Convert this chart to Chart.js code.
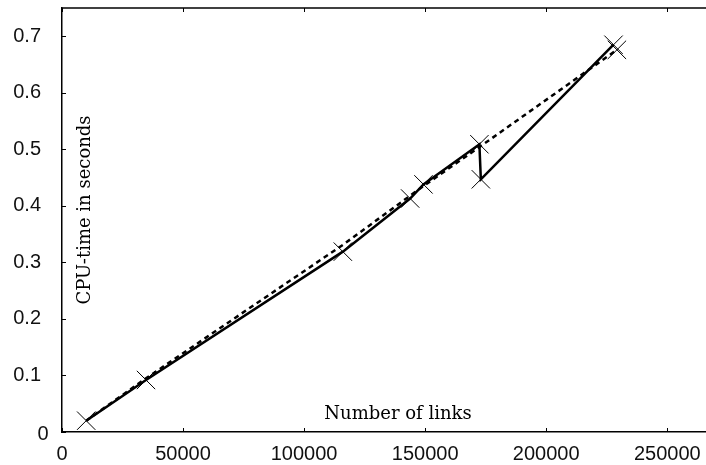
<!DOCTYPE html>
<html><head><meta charset="utf-8">
<script src="https://cdn.jsdelivr.net/npm/chart.js@4.4.0/dist/chart.umd.min.js"></script>
<style>html,body{margin:0;padding:0;background:#fff;} #wrap{width:706px;height:465px;}</style>
</head><body><div id="wrap"><canvas id="c" width="706" height="465"></canvas></div>
<script>
// measured (solid line, X markers)
const measuredLinks = [10000, 34700, 116000, 143800, 149300, 172400, 173000, 227800];
const measuredTime  = [0.020, 0.092, 0.319, 0.413, 0.438, 0.509, 0.447, 0.685];
// model / estimate (dashed line)
const modelLinks = [10000, 34700, 116000, 143800, 149300, 172400, 229200];
const modelTime  = [0.020, 0.095, 0.331, 0.418, 0.435, 0.504, 0.676];
// axes
const xTicks = [0, 50000, 100000, 150000, 200000, 250000];
const yTicks = [0, 0.1, 0.2, 0.3, 0.4, 0.5, 0.6, 0.7];
const xTitle = 'Number of links';
const yTitle = 'CPU-time in seconds';

const toPts = (xs, ys) => xs.map((v, i) => ({x: v, y: ys[i]}));
const tickFont = {family: '"Liberation Sans", Arial, sans-serif', size: 20};
const noPad = s => { s.paddingTop = 0; s.paddingBottom = 0; s.paddingLeft = 0; s.paddingRight = 0; };

const frame = {
  id: 'frame',
  afterDraw(chart) {
    const {ctx, chartArea: a, scales: {x, y}} = chart;
    ctx.save();
    ctx.strokeStyle = '#000';
    ctx.lineWidth = 1.5;
    ctx.beginPath();
    ctx.moveTo(a.left, a.top); ctx.lineTo(a.right, a.top);
    ctx.stroke();
    ctx.lineWidth = 1;
    ctx.beginPath();
    x.ticks.forEach(t => {
      const px = Math.round(x.getPixelForValue(t.value)) + 0.5;
      ctx.moveTo(px, a.bottom); ctx.lineTo(px, a.bottom - 4);
      ctx.moveTo(px, a.top); ctx.lineTo(px, a.top + 4);
    });
    y.ticks.forEach(t => {
      const py = Math.round(y.getPixelForValue(t.value)) + 0.5;
      ctx.moveTo(a.left, py); ctx.lineTo(a.left + 4, py);
    });
    ctx.stroke();
    // y "0" label (offset like the original)
    ctx.fillStyle = '#111';
    ctx.font = '20px "Liberation Sans", Arial, sans-serif';
    ctx.textAlign = 'center'; ctx.textBaseline = 'middle';
    ctx.fillText('0', 43, y.getPixelForValue(0) + 2);
    // axis titles inside the plot
    ctx.fillStyle = '#000';
    ctx.font = '18px "DejaVu Serif", serif';
    ctx.fillText(xTitle, 398, 414);
    ctx.translate(85, 210); ctx.rotate(-Math.PI / 2);
    ctx.fillText(yTitle, 0, 0);
    ctx.restore();
  }
};

new Chart(document.getElementById('c'), {
  type: 'line',
  data: {
    datasets: [
      {
        data: toPts(modelLinks, modelTime),
        borderColor: '#000', borderWidth: 2.5, borderDash: [5, 4],
        pointStyle: 'crossRot',
        pointRadius: modelLinks.map((v, i) => i === modelLinks.length - 1 ? 13 : 0),
        pointBorderWidth: 1, pointBorderColor: '#000', pointBackgroundColor: '#000',
        tension: 0, fill: false
      },
      {
        data: toPts(measuredLinks, measuredTime),
        borderColor: '#000', borderWidth: 2.5,
        pointStyle: 'crossRot', pointRadius: 13,
        pointBorderWidth: 1, pointBorderColor: '#000', pointBackgroundColor: '#000',
        tension: 0, fill: false
      }
    ]
  },
  options: {
    responsive: false,
    animation: false,
    layout: {autoPadding: false, padding: {top: 8, left: 0, right: 0, bottom: 0}},
    plugins: {legend: {display: false}, tooltip: {enabled: false}},
    scales: {
      x: {
        type: 'linear', min: 0, max: 266000,
        afterBuildTicks: s => { s.ticks = xTicks.map(v => ({value: v})); },
        afterFit: s => { s.height = 33; noPad(s); },
        grid: {display: false, drawTicks: false},
        border: {display: true, color: '#000', width: 1.5},
        ticks: {includeBounds: false, font: tickFont, color: '#111', padding: 10, maxRotation: 0,
                callback: v => String(v)}
      },
      y: {
        type: 'linear', min: 0, max: 0.75,
        afterBuildTicks: s => { s.ticks = yTicks.map(v => ({value: v})); },
        afterFit: s => { s.width = 62; noPad(s); },
        grid: {display: false, drawTicks: false},
        border: {display: true, color: '#000', width: 1.5},
        ticks: {includeBounds: false, font: tickFont, color: '#111', padding: 21,
                callback: v => v === 0 ? '' : Number(v).toFixed(1)}
      }
    }
  },
  plugins: [frame]
});
</script>
</body></html>
